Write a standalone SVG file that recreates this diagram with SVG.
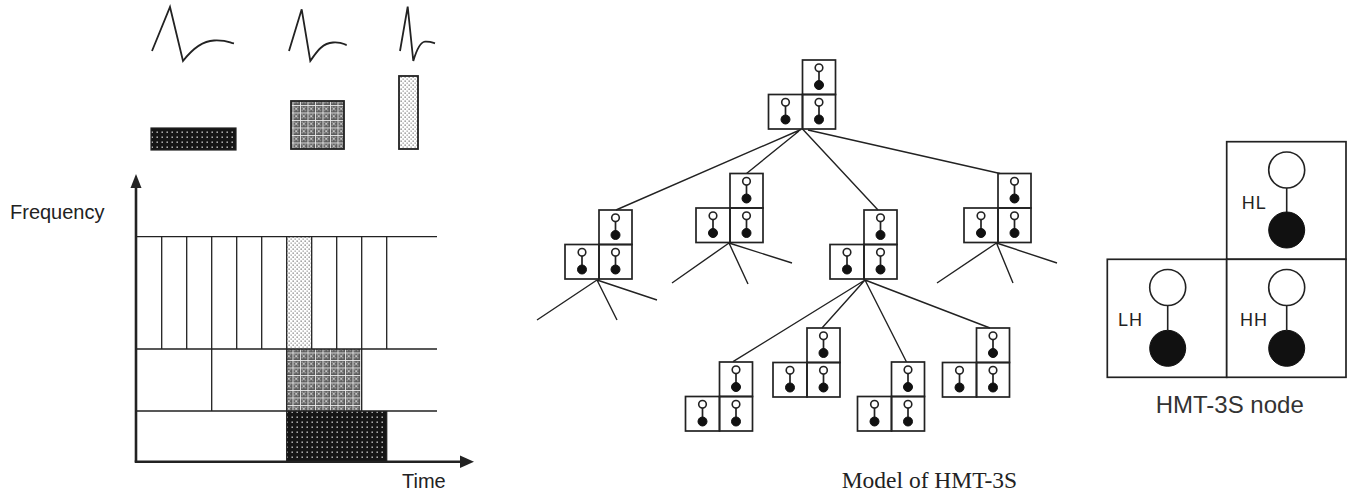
<svg xmlns="http://www.w3.org/2000/svg" xmlns:xlink="http://www.w3.org/1999/xlink" width="1348" height="493" viewBox="0 0 1348 493">
<style>
.sans{font-family:"Liberation Sans",Arial,sans-serif;fill:#222}
.serif{font-family:"Liberation Serif","Times New Roman",serif;fill:#222}
.ax{stroke:#222;stroke-width:2.6;fill:none}
.grid{stroke:#222;stroke-width:1.3;fill:none}
.wave{stroke:#222;stroke-width:1.8;fill:none;stroke-linejoin:miter}
.box{stroke:#222;stroke-width:1.7;fill:none}
.edge{stroke:#222;stroke-width:1.4;fill:none}
.cell{stroke:#222;stroke-width:1.7;fill:#fff}
.oc{stroke:#222;stroke-width:1.6;fill:#fff}
.fc{fill:#111;stroke:#111}
</style>
<defs>
<pattern id="pLight" width="4" height="4" patternUnits="userSpaceOnUse">
<rect width="4" height="4" fill="#fff"/>
<rect x="0.5" y="0.5" width="1.3" height="1.3" fill="#777"/>
<rect x="2.5" y="2.5" width="1.3" height="1.3" fill="#999"/>
</pattern>
<pattern id="pCross" width="7.5" height="7.5" patternUnits="userSpaceOnUse">
<rect width="7.5" height="7.5" fill="#5a5a5a"/>
<rect x="1.5" y="1.5" width="1.5" height="1.5" fill="#aaa"/>
<rect x="4.5" y="1.5" width="1.5" height="1.5" fill="#aaa"/>
<rect x="1.5" y="4.5" width="1.5" height="1.5" fill="#aaa"/>
<rect x="4.5" y="4.5" width="1.5" height="1.5" fill="#aaa"/>
<rect x="3" y="3" width="1.5" height="1.5" fill="#fff"/>
<rect x="0" y="0" width="7.5" height="0.9" fill="#e8e8e8"/>
<rect x="0" y="0" width="0.9" height="7.5" fill="#e8e8e8"/>
</pattern>
<pattern id="pDark" width="5" height="5" patternUnits="userSpaceOnUse">
<rect width="5" height="5" fill="#151515"/>
<rect x="1.5" y="1.5" width="1.4" height="1.4" fill="#ccc"/>
</pattern>
<g id="mini">
<line x1="0" y1="4" x2="0" y2="21" stroke="#222" stroke-width="1.7"/>
<circle cx="0" cy="7.8" r="3.8" class="oc"/>
<circle cx="0" cy="25" r="4.5" class="fc"/>
</g>
<g id="hnode">
<rect x="0" y="0" width="33" height="34.5" class="box" fill="#fff"/>
<rect x="-34" y="34.5" width="34" height="34.5" class="box" fill="#fff"/>
<rect x="0" y="34.5" width="33" height="34.5" class="box" fill="#fff"/>
<use xlink:href="#mini" x="16.5" y="0"/>
<use xlink:href="#mini" x="16.5" y="34.5"/>
<use xlink:href="#mini" x="-17" y="34.5"/>
</g>
</defs>
<rect width="1348" height="493" fill="#fff"/>

<!-- Left: waveforms and atoms -->
<g id="waveforms">
<path class="wave" d="M152,51 L170,7 L183,61 C190,52 200,41 214,40.5 S229,42.5 234,43.3"/>
<path class="wave" d="M289,51 L301.7,9.3 L310.3,61 C316,53 322,43 333,42.5 S343,44.5 346.7,45"/>
<path class="wave" d="M400,51 L407.7,6.7 L413.3,61 C416,52 420,42 425,41.7 S431,42 435,43.3"/>
</g>
<g id="atoms">
<rect x="151" y="128" width="85" height="22" fill="url(#pDark)" stroke="#222" stroke-width="1.2"/>
<rect x="291" y="101" width="53" height="48" fill="url(#pCross)" stroke="#222" stroke-width="1.8"/>
<rect x="399" y="76" width="19" height="73" fill="url(#pLight)" stroke="#222" stroke-width="1.8"/>
</g>

<!-- Left: time-frequency tiling -->
<g id="tiling">
<rect x="286.7" y="236.7" width="25" height="112.3" fill="url(#pLight)"/>
<rect x="286.7" y="349" width="75" height="62" fill="url(#pCross)"/>
<rect x="286.7" y="411" width="100" height="50.7" fill="url(#pDark)"/>
<path class="grid" d="M136,236.7 H437 M136,349 H437 M136,411 H437"/>
<path class="grid" d="M161.7,236.7 V349 M186.7,236.7 V349 M211.7,236.7 V349 M236.7,236.7 V349 M261.7,236.7 V349 M286.7,236.7 V349 M311.7,236.7 V349 M336.7,236.7 V349 M361.7,236.7 V349 M386.7,236.7 V349"/>
<path class="grid" d="M211.7,349 V411 M286.7,349 V411 M361.7,349 V411 M286.7,411 V461.7 M386.7,411 V461.7"/>
</g>
<g id="axes">
<line class="ax" x1="136" y1="461.7" x2="136" y2="186"/>
<polygon points="136,174 130.5,188 141.5,188" fill="#222"/>
<line class="ax" x1="134.7" y1="461.7" x2="462" y2="461.7"/>
<polygon points="474,461.7 460,455.5 460,468" fill="#222"/>
<text class="sans" x="10" y="219" font-size="20">Frequency</text>
<text class="sans" x="402" y="488" font-size="20">Time</text>
</g>

<!-- Middle: tree model -->
<g id="connectors">
<path class="edge" d="M801,129.5 L616,210 M799,131 L746.5,173.5 M803,129.5 L878,210 M808,130 L1000,173.5"/>
<path class="edge" d="M597,280 L537,320 M597,280 L617,320 M597,280 L657,300"/>
<path class="edge" d="M729,243 L672,283 M729,243 L748,284 M729,243 L792,263"/>
<path class="edge" d="M865,280 L733,361.7 M865,280 L822,328 M865,280 L906.5,362 M865,280 L990,328"/>
<path class="edge" d="M996.5,243 L937,283 M996.5,243 L1013,283 M996.5,243 L1057,263"/>
</g>
<g id="node-root"><use xlink:href="#hnode" x="802.5" y="60"/></g>
<g id="node-a"><use xlink:href="#hnode" x="599" y="210"/></g>
<g id="node-b"><use xlink:href="#hnode" x="730" y="173.5"/></g>
<g id="node-c"><use xlink:href="#hnode" x="864" y="210"/></g>
<g id="node-d"><use xlink:href="#hnode" x="998" y="173.5"/></g>
<g id="node-e"><use xlink:href="#hnode" x="719.5" y="362"/></g>
<g id="node-f"><use xlink:href="#hnode" x="807" y="328"/></g>
<g id="node-g"><use xlink:href="#hnode" x="891.5" y="362"/></g>
<g id="node-h"><use xlink:href="#hnode" x="976.5" y="328"/></g>
<text class="serif" x="841.7" y="488" font-size="23.5">Model of HMT-3S</text>

<!-- Right: HMT-3S node -->
<g id="hmt-node">
<rect class="cell" x="1226.7" y="141.7" width="119.3" height="117.6"/>
<rect class="cell" x="1107.3" y="259.3" width="119.4" height="118"/>
<rect class="cell" x="1226.7" y="259.3" width="119.3" height="118"/>
<path d="M1286.7,188 V212 M1167.7,305.5 V330 M1286.7,305.5 V330" stroke="#222" stroke-width="1.6"/>
<circle class="oc" cx="1286.7" cy="170" r="18"/>
<circle class="fc" cx="1286.7" cy="230" r="18"/>
<circle class="oc" cx="1167.7" cy="287.5" r="18"/>
<circle class="fc" cx="1167.7" cy="348.3" r="18"/>
<circle class="oc" cx="1286.7" cy="287.5" r="18"/>
<circle class="fc" cx="1286.7" cy="348.3" r="18"/>
<text class="sans" x="1241.7" y="209" font-size="18" letter-spacing="1">HL</text>
<text class="sans" x="1118" y="326" font-size="18" letter-spacing="1">LH</text>
<text class="sans" x="1240" y="326" font-size="18" letter-spacing="1">HH</text>
<text class="sans" x="1155.7" y="413" font-size="24" style="fill:#333">HMT-3S node</text>
</g>
</svg>
